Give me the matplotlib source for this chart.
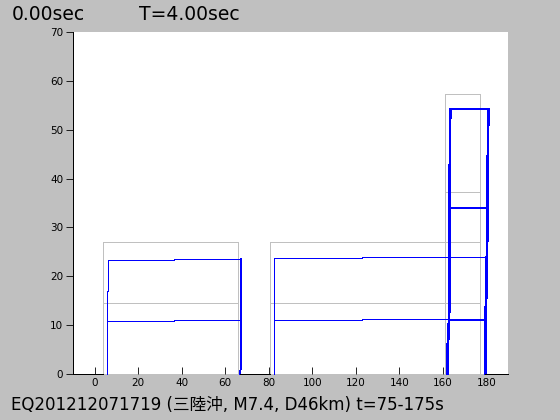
import matplotlib
matplotlib.use("Agg")
import matplotlib.pyplot as plt

# time labels
time_label = "0.00sec"
period_label = "T=4.00sec"
caption = "EQ201212071719 (三陸沖, M7.4, D46km) t=75-175s"

x_ticks = [0, 20, 40, 60, 80, 100, 120, 140, 160, 180]
y_ticks = [0, 10, 20, 30, 40, 50, 60, 70]

# ground line between the buildings
ground_segments = [[-10, 4], [66.7, 80.5], [179.6, 190]]

# undeformed frames (gray): left, right, floor heights
gray_left = [4, 80.5, 161.2]
gray_right = [66, 177.3, 177.3]
gray_floors = [[14.5, 27.0], [14.5, 27.0], [37.2, 57.4]]

# deformed frames (blue), thin members
b1_left_x = [5.7, 5.7, 6.0, 6.0]
b1_left_y = [0, 17.0, 17.0, 23.3]
b1_right_x = [66.7, 67.1, 67.1]
b1_right_y = [0, 1.0, 23.5]
b1_top_x = [6.0, 36.5, 36.5, 67.1]
b1_top_y = [23.3, 23.3, 23.5, 23.5]
b1_low_x = [5.7, 36.5, 36.5, 67.1]
b1_low_y = [10.85, 10.85, 11.05, 11.05]

b2_left_x = [82.3, 82.3]
b2_left_y = [0, 23.7]
b2_top_x = [82.3, 122.7, 122.7, 180.5]
b2_top_y = [23.7, 23.7, 23.9, 23.9]
b2_low_x = [82.3, 122.7, 122.7, 179.6]
b2_low_y = [11.05, 11.05, 11.25, 11.25]

# tower (thick members)
tw_left_x = [162.3, 162.3, 162.9, 163.2, 163.4]
tw_left_y = [0, 5.5, 11.1, 34.0, 54.2]
tw_right_x = [179.5, 179.7, 180.2, 180.6, 180.9]
tw_right_y = [0, 11.1, 20.6, 34.0, 54.2]
tw_floors = [11.1, 34.0, 54.2]

GRAY = "#c0c0c0"
BLUE = "#0000ff"
THIN = 0.6
THICK = 1.3

fig = plt.figure(figsize=(5.6, 4.2), dpi=100, facecolor=GRAY)
ax = fig.add_axes([73 / 560, 1 - 374 / 420, 435 / 560, 342 / 420])
ax.set_facecolor("white")

for x0, x1 in ground_segments:
    ax.plot([x0, x1], [0, 0], color="black", lw=THIN, clip_on=False, zorder=4,
            antialiased=False)

for left, right, floors in zip(gray_left, gray_right, gray_floors):
    top = floors[-1]
    ax.plot([left, left, right, right], [0, top, top, 0],
            color=GRAY, lw=THIN, clip_on=False, antialiased=False)
    for f in floors[:-1]:
        ax.plot([left, right], [f, f], color=GRAY, lw=THIN, antialiased=False)

for xs, ys in [(b1_left_x, b1_left_y), (b1_right_x, b1_right_y), (b1_top_x, b1_top_y),
               (b1_low_x, b1_low_y), (b2_left_x, b2_left_y), (b2_top_x, b2_top_y),
               (b2_low_x, b2_low_y)]:
    ax.plot(xs, ys, color=BLUE, lw=THIN, clip_on=False, zorder=3, antialiased=False)

ax.plot(tw_left_x, tw_left_y, color=BLUE, lw=THICK, clip_on=False, zorder=3,
        antialiased=False)
ax.plot(tw_right_x, tw_right_y, color=BLUE, lw=THICK, clip_on=False, zorder=3,
        antialiased=False)
for f in tw_floors:
    xl = [x for x, y in zip(tw_left_x, tw_left_y) if y == f][0]
    xr = [x for x, y in zip(tw_right_x, tw_right_y) if y == f][0]
    ax.plot([xl, xr], [f, f], color=BLUE, lw=THICK, zorder=3, antialiased=False)

ax.set_xlim(-10, 190)
ax.set_ylim(0, 70)
ax.set_xticks(x_ticks)
ax.set_yticks(y_ticks)
for side in ["top", "right", "bottom"]:
    ax.spines[side].set_visible(False)
ax.spines["left"].set_linewidth(THIN)
ax.spines["left"].set_antialiased(False)
ax.tick_params(axis="x", direction="in", length=5, width=THIN, labelsize=7.5, pad=3)
ax.tick_params(axis="y", direction="out", length=5, width=THIN, labelsize=7.5, pad=2)
for lab in ax.get_xticklabels() + ax.get_yticklabels():
    lab.set_fontfamily(["Liberation Sans Narrow", "DejaVu Sans"])

fig.text(12 / 560, 1 - 14 / 420, time_label, fontsize=13.5, va="center", ha="left",
         family="DejaVu Sans")
fig.text(139 / 560, 1 - 14 / 420, period_label, fontsize=13.5, va="center", ha="left",
         family="DejaVu Sans")
fig.text(11 / 560, 1 - 405 / 420, caption, fontsize=12, va="center", ha="left",
         family=["DejaVu Sans", "Noto Sans CJK JP"])

fig.savefig("out.png", dpi=100, facecolor=GRAY)
